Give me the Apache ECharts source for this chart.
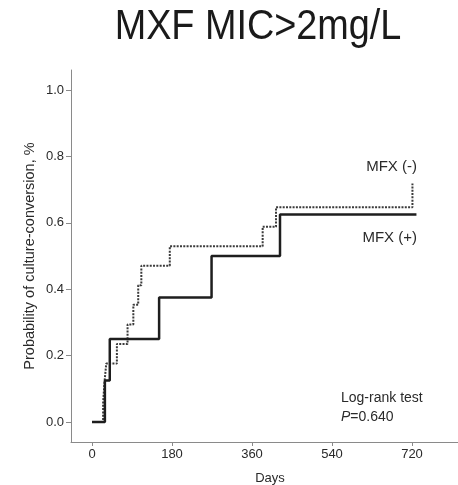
<!DOCTYPE html>
<html>
<head>
<meta charset="utf-8">
<script src="https://cdn.jsdelivr.net/npm/echarts@6/dist/echarts.min.js"></script>
<style>
  html, body { margin: 0; padding: 0; background: #fff; }
  #chart { width: 458px; height: 485px; }
</style>
</head>
<body>
<div id="chart"></div>
<script>
// Kaplan-Meier culture-conversion curves, MXF MIC > 2 mg/L subgroup
var titleText = 'MXF MIC>2mg/L';

// MFX (+) group: event days and cumulative conversion probability
var mfxPosDays = [0, 29, 40, 151, 269, 423, 730];
var mfxPosProb = [0, 0.125, 0.25, 0.375, 0.5, 0.625, 0.625];

// MFX (-) group: event days and cumulative conversion probability
var mfxNegDays = [0, 25, 28, 32, 56, 80, 93, 104, 111, 175, 384, 414, 721];
var mfxNegProb = [0, 0.059, 0.118, 0.176, 0.235, 0.294, 0.353, 0.412, 0.471, 0.529, 0.588, 0.647, 0.718];

// Axis ticks
var xTicks = [0, 180, 360, 540, 720];
var yTicks = [0, 0.2, 0.4, 0.6, 0.8, 1.0];

var seriesLabels = ['MFX (-)', 'MFX (+)'];
var testLines = ['Log-rank test', '=0.640'];

function pairs(xs, ys) {
  return xs.map(function (x, i) { return [x, ys[i]]; });
}

var chart = echarts.init(document.getElementById('chart'));
var axisColor = '#8a8a8a';
var textColor = '#2a2a2a';
var sans = '"Liberation Sans", Arial, sans-serif';

chart.setOption({
  animation: false,
  backgroundColor: '#fff',
  grid: {
    left: 71, top: 70, width: 390, height: 372,
    containLabel: false, outerBoundsMode: 'none'
  },
  xAxis: {
    type: 'value', min: -47.25, max: 830.25,
    splitLine: { show: false },
    axisLine: { onZero: false, lineStyle: { color: axisColor, width: 1 } },
    axisTick: { customValues: xTicks, length: 4, lineStyle: { color: axisColor } },
    axisLabel: {
      customValues: xTicks, margin: 6, color: textColor,
      fontFamily: sans, fontSize: 13
    }
  },
  yAxis: {
    type: 'value', min: -0.06, max: 1.06,
    splitLine: { show: false },
    axisLine: { onZero: false, lineStyle: { color: axisColor, width: 1 } },
    axisTick: { customValues: yTicks, length: 5, lineStyle: { color: axisColor } },
    axisLabel: {
      customValues: yTicks, margin: 7, color: textColor,
      fontFamily: sans, fontSize: 13,
      formatter: function (v) { return v.toFixed(1); }
    }
  },
  series: [
    {
      name: seriesLabels[0], type: 'line', step: 'end',
      data: pairs(mfxNegDays, mfxNegProb),
      symbol: 'none', z: 2,
      lineStyle: { color: '#3a3a3a', width: 2, type: [2, 1.3] }
    },
    {
      name: seriesLabels[1], type: 'line', step: 'end',
      data: pairs(mfxPosDays, mfxPosProb),
      symbol: 'none', z: 3,
      lineStyle: { color: '#1e1e1e', width: 2.5 }
    }
  ],
  graphic: [
    {
      type: 'text', x: 258, y: 27, scaleX: 0.9,
      style: {
        text: titleText, fill: '#1a1a1a', align: 'center', verticalAlign: 'middle',
        font: '42px "Liberation Sans Narrow", "Liberation Sans", sans-serif'
      }
    },
    {
      type: 'text', x: 30, y: 256, rotation: Math.PI / 2,
      style: {
        text: 'Probability of culture-conversion, %', fill: textColor,
        font: '14.5px ' + sans, align: 'center', verticalAlign: 'middle'
      }
    },
    {
      type: 'text', x: 270, y: 478,
      style: {
        text: 'Days', fill: textColor,
        font: '13px ' + sans, align: 'center', verticalAlign: 'middle'
      }
    },
    {
      type: 'text', x: 417, y: 167,
      style: {
        text: seriesLabels[0], fill: textColor,
        font: '15px ' + sans, align: 'right', verticalAlign: 'middle'
      }
    },
    {
      type: 'text', x: 417, y: 238,
      style: {
        text: seriesLabels[1], fill: textColor,
        font: '15px ' + sans, align: 'right', verticalAlign: 'middle'
      }
    },
    {
      type: 'text', x: 341, y: 398,
      style: {
        text: testLines[0], fill: textColor,
        font: '14px ' + sans, align: 'left', verticalAlign: 'middle'
      }
    },
    {
      type: 'text', x: 341, y: 417,
      style: {
        text: '{i|P}' + testLines[1], fill: textColor,
        font: '14px ' + sans, align: 'left', verticalAlign: 'middle',
        rich: { i: { fontStyle: 'italic', fontFamily: sans, fontSize: 14, fill: textColor } }
      }
    }
  ]
});
</script>
</body>
</html>
